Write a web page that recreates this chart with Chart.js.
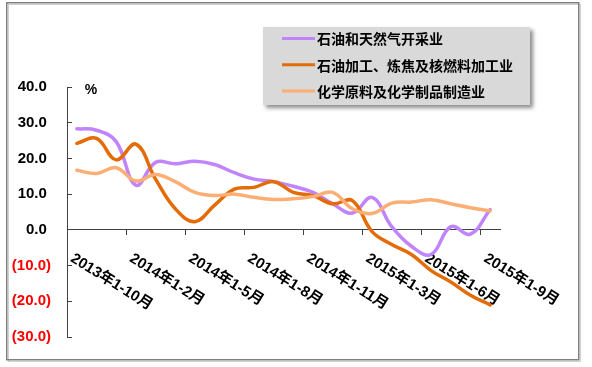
<!DOCTYPE html>
<html><head><meta charset="utf-8">
<script src="https://cdn.jsdelivr.net/npm/chart.js@4/dist/chart.umd.min.js"></script>
<style>html,body{margin:0;padding:0;background:#fff}canvas{display:block}</style>
</head><body>
<canvas id="c" width="592" height="367"></canvas>
<script>
// ---- data ----
const categories = [
  '2013年1-10月','2013年1-11月','2013年1-12月',
  '2014年1-2月','2014年1-3月','2014年1-4月','2014年1-5月','2014年1-6月','2014年1-7月',
  '2014年1-8月','2014年1-9月','2014年1-10月','2014年1-11月','2014年1-12月',
  '2015年1-2月','2015年1-3月','2015年1-4月','2015年1-5月','2015年1-6月','2015年1-7月',
  '2015年1-8月','2015年1-9月'
];
const seriesNames = ['石油和天然气开采业', '石油加工、炼焦及核燃料加工业', '化学原料及化学制品制造业'];
const oilGas   = [28.3, 27.9, 24.7, 12.5, 18.9, 18.5, 19.2, 18.3, 16.0, 14.2, 13.5, 12.2, 10.5, 7.3, 4.7, 9.1, 0.9, -4.6, -6.9, 0.9, -1.2, 5.7];
const refining = [24.2, 25.6, 19.6, 24.0, 14.2, 5.9, 2.3, 6.9, 11.4, 11.9, 13.5, 10.5, 9.6, 7.3, 8.2, -0.5, -4.1, -6.9, -11.4, -14.6, -18.3, -21.0];
const chemical = [16.7, 15.8, 17.4, 13.7, 15.5, 13.5, 10.5, 9.6, 10.0, 9.1, 8.5, 8.7, 9.3, 10.5, 5.9, 4.6, 7.5, 7.8, 8.4, 7.3, 6.2, 5.3];
const yMin = -30, yMax = 40, yStep = 10;
const unitLabel = '%';
const labelEvery = 3;

const colors = ['#c084fc', '#e36c09', '#fcae74'];
const FONT = "'Liberation Sans', 'Noto Sans CJK SC', sans-serif";
const CJK = "'Noto Sans CJK SC', 'Liberation Sans', sans-serif";

const framePlugin = {
  id: 'frame',
  beforeDraw(chart) {
    const ctx = chart.ctx;
    ctx.save();
    ctx.fillStyle = '#fff';
    ctx.fillRect(0, 0, chart.width, chart.height);
    ctx.strokeStyle = '#d0d0d0';
    ctx.lineWidth = 1;
    ctx.strokeRect(8.5, 4.5, 572, 357);
    ctx.strokeStyle = '#7f7f7f';
    ctx.lineWidth = 1.5;
    ctx.strokeRect(6.75, 2.75, 572, 357);
    ctx.restore();
  }
};

const xLabelPlugin = {
  id: 'xLabels',
  beforeDatasetsDraw(chart) {
    const ctx = chart.ctx;
    const xs = chart.scales.x, ys = chart.scales.y;
    const y0 = ys.getPixelForValue(0);
    ctx.save();
    ctx.font = 'bold 15px ' + FONT;
    ctx.fillStyle = '#000';
    ctx.textAlign = 'left';
    ctx.textBaseline = 'top';
    categories.forEach((lab, i) => {
      if (i % labelEvery !== 0) return;
      const x = xs.getPixelForValue(i);
      ctx.save();
      ctx.translate(x - 1, y0 + 21);
      ctx.rotate(32 * Math.PI / 180);
      ctx.fillText(lab, 0, 0);
      ctx.restore();
    });
    // unit label
    ctx.font = 'bold 14px ' + FONT;
    ctx.textAlign = 'center';
    ctx.textBaseline = 'middle';
    ctx.fillText(unitLabel, 91, 90);
    ctx.restore();
  }
};

const legendPlugin = {
  id: 'legendBox',
  afterDraw(chart) {
    const ctx = chart.ctx;
    ctx.save();
    ctx.shadowColor = 'rgba(0,0,0,0.45)';
    ctx.shadowBlur = 4;
    ctx.shadowOffsetX = 3;
    ctx.shadowOffsetY = 3;
    ctx.fillStyle = '#d9d9d9';
    ctx.fillRect(263, 27, 267, 78);
    ctx.restore();
    ctx.save();
    ctx.font = 'bold 14px ' + CJK;
    ctx.textBaseline = 'middle';
    ctx.textAlign = 'left';
    chart.data.datasets.forEach((ds, i) => {
      const y = 38.5 + i * 26.2;
      ctx.strokeStyle = ds.borderColor;
      ctx.lineWidth = 3;
      ctx.beginPath();
      ctx.moveTo(282, y);
      ctx.lineTo(315, y);
      ctx.stroke();
      ctx.fillStyle = '#000';
      ctx.fillText(ds.label, 317, y + 0.5);
    });
    ctx.restore();
  }
};

new Chart(document.getElementById('c'), {
  type: 'line',
  data: {
    labels: categories,
    datasets: [
      { label: seriesNames[0], data: oilGas, borderColor: colors[0], order: 3 },
      { label: seriesNames[1], data: refining, borderColor: colors[1], order: 2 },
      { label: seriesNames[2], data: chemical, borderColor: colors[2], order: 1 }
    ].map(d => Object.assign({
      borderWidth: 3.5, pointRadius: 0, tension: 0.4, fill: false,
      backgroundColor: d.borderColor, borderCapStyle: 'round', borderJoinStyle: 'round'
    }, d))
  },
  options: {
    responsive: false,
    animation: false,
    devicePixelRatio: 1,
    layout: { padding: { top: 87, bottom: 24.3, left: 0, right: 92 } },
    plugins: { legend: { display: false }, tooltip: { enabled: false } },
    scales: {
      x: {
        type: 'category',
        position: { y: 0 },
        offset: true,
        afterFit(s) { s.height = 0; },
        ticks: { display: false },
        border: { display: true, color: '#404040', width: 1 },
        grid: {
          offset: true,
          drawOnChartArea: false,
          drawTicks: true,
          tickLength: 5,
          tickWidth: 1,
          color: (c) => (c.index !== undefined && c.index > 0 && c.index % labelEvery === 0) ? '#404040' : 'rgba(0,0,0,0)'
        }
      },
      y: {
        min: yMin, max: yMax,
        position: 'left',
        afterFit(s) { s.width = 67; },
        border: { display: true, color: '#404040', width: 1 },
        grid: { drawOnChartArea: false, drawTicks: true, tickLength: -5, color: '#404040' },
        ticks: {
          stepSize: yStep,
          padding: 21,
          font: { family: FONT, size: 15, weight: 'bold' },
          color: (c) => c.tick && c.tick.value < 0 ? '#ff0000' : '#000000',
          callback: (v) => v < 0 ? '(' + Math.abs(v).toFixed(1) + ')' : v.toFixed(1) + ' '
        }
      }
    }
  },
  plugins: [framePlugin, xLabelPlugin, legendPlugin]
});
</script>
</body></html>
